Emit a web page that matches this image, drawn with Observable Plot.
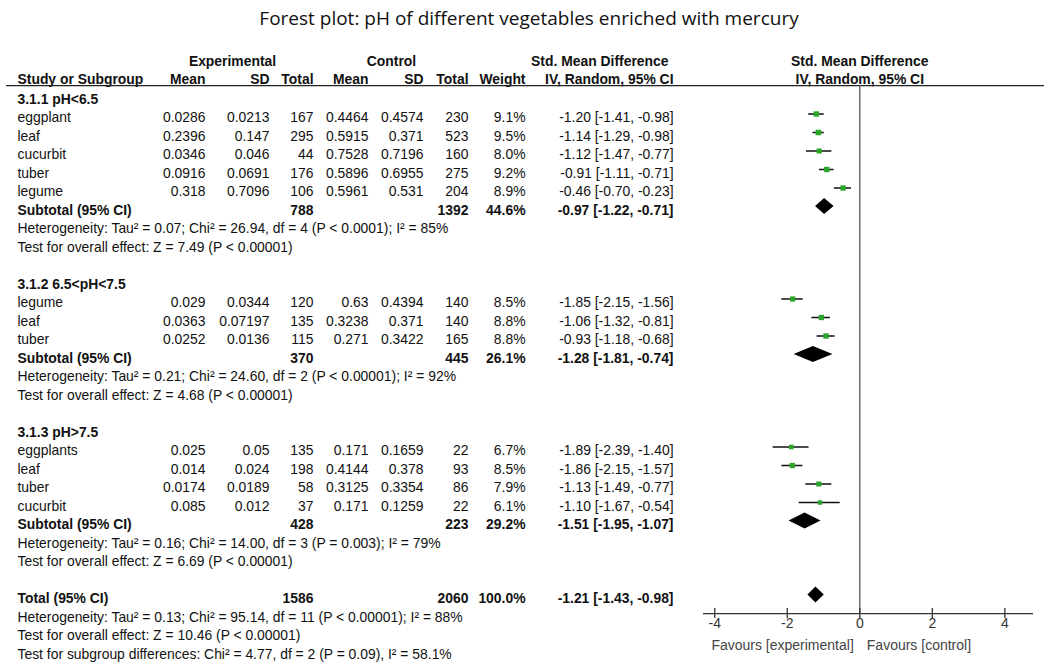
<!DOCTYPE html>
<html>
<head>
<meta charset="utf-8">
<script src="https://cdn.jsdelivr.net/npm/d3@7"></script>
<script src="https://cdn.jsdelivr.net/npm/@observablehq/plot@0.6"></script>
<style>
  html, body { margin: 0; padding: 0; background: #fff; }
  #title { height: 36px; line-height: 36px; text-align: center; padding-left: 14px;
           font-family: "Open Sans", sans-serif; font-size: 19px; color: #111; }
  #chart svg { display: block; }
</style>
</head>
<body>
<div id="title">Forest plot: pH of different vegetables enriched with mercury</div>
<div id="chart"></div>
<script>
// ---------- data ----------
const groupLabels = ["3.1.1 pH<6.5", "3.1.2 6.5<pH<7.5", "3.1.3 pH>7.5"];
const studyGroup = [0, 0, 0, 0, 0, 1, 1, 1, 2, 2, 2, 2];
const studyNames = ["eggplant", "leaf", "cucurbit", "tuber", "legume", "legume", "leaf", "tuber", "eggplants", "leaf", "tuber", "cucurbit"];
const expMean = [0.0286, 0.2396, 0.0346, 0.0916, 0.318, 0.029, 0.0363, 0.0252, 0.025, 0.014, 0.0174, 0.085];
const expSD = [0.0213, 0.147, 0.046, 0.0691, 0.7096, 0.0344, 0.07197, 0.0136, 0.05, 0.024, 0.0189, 0.012];
const expN = [167, 295, 44, 176, 106, 120, 135, 115, 135, 198, 58, 37];
const ctlMean = [0.4464, 0.5915, 0.7528, 0.5896, 0.5961, 0.63, 0.3238, 0.271, 0.171, 0.4144, 0.3125, 0.171];
const ctlSD = [0.4574, 0.371, 0.7196, 0.6955, 0.531, 0.4394, 0.371, 0.3422, 0.1659, 0.378, 0.3354, 0.1259];
const ctlN = [230, 523, 160, 275, 204, 140, 140, 165, 22, 93, 86, 22];
const weight = [9.1, 9.5, 8.0, 9.2, 8.9, 8.5, 8.8, 8.8, 6.7, 8.5, 7.9, 6.1];
const smd = [-1.20, -1.14, -1.12, -0.91, -0.46, -1.85, -1.06, -0.93, -1.89, -1.86, -1.13, -1.10];
const ciLo = [-1.41, -1.29, -1.47, -1.11, -0.70, -2.15, -1.32, -1.18, -2.39, -2.15, -1.49, -1.67];
const ciHi = [-0.98, -0.98, -0.77, -0.71, -0.23, -1.56, -0.81, -0.68, -1.40, -1.57, -0.77, -0.54];

const subExpN = [788, 370, 428];
const subCtlN = [1392, 445, 223];
const subWeight = [44.6, 26.1, 29.2];
const subSmd = [-0.97, -1.28, -1.51];
const subLo = [-1.22, -1.81, -1.95];
const subHi = [-0.71, -0.74, -1.07];
const subHet = [
  "Heterogeneity: Tau² = 0.07; Chi² = 26.94, df = 4 (P < 0.0001); I² = 85%",
  "Heterogeneity: Tau² = 0.21; Chi² = 24.60, df = 2 (P < 0.00001); I² = 92%",
  "Heterogeneity: Tau² = 0.16; Chi² = 14.00, df = 3 (P = 0.003); I² = 79%"
];
const subTest = [
  "Test for overall effect: Z = 7.49 (P < 0.00001)",
  "Test for overall effect: Z = 4.68 (P < 0.00001)",
  "Test for overall effect: Z = 6.69 (P < 0.00001)"
];

const totalExpN = 1586, totalCtlN = 2060, totalWeight = 100.0;
const totalSmd = -1.21, totalLo = -1.43, totalHi = -0.98;
const totalNotes = [
  "Heterogeneity: Tau² = 0.13; Chi² = 95.14, df = 11 (P < 0.00001); I² = 88%",
  "Test for overall effect: Z = 10.46 (P < 0.00001)",
  "Test for subgroup differences: Chi² = 4.77, df = 2 (P = 0.09), I² = 58.1%"
];
const xTicks = [-4, -2, 0, 2, 4];
const favourLabels = ["Favours [experimental]", "Favours [control]"];
const groupHeaders = ["Experimental", "Control", "Std. Mean Difference"];
const columnHeaders = ["Mean", "SD", "Total", "Mean", "SD", "Total", "Weight", "IV, Random, 95% CI"];

// ---------- build rows ----------
const fmtCI = (m, l, h) => `${m.toFixed(2)} [${l.toFixed(2)}, ${h.toFixed(2)}]`;
const rows = [];
const studies = [];
const diamonds = [];
let r = 0;
groupLabels.forEach((g, gi) => {
  rows.push({row: r++, label: g, bold: true});
  studyNames.forEach((name, i) => {
    if (studyGroup[i] !== gi) return;
    rows.push({row: r, label: name, bold: false,
      eM: String(expMean[i]), eS: String(expSD[i]), eN: String(expN[i]),
      cM: String(ctlMean[i]), cS: String(ctlSD[i]), cN: String(ctlN[i]),
      w: weight[i].toFixed(1) + "%", ci: fmtCI(smd[i], ciLo[i], ciHi[i])});
    studies.push({row: r, smd: smd[i], lo: ciLo[i], hi: ciHi[i], w: weight[i]});
    r++;
  });
  rows.push({row: r, label: "Subtotal (95% CI)", bold: true, eN: String(subExpN[gi]), cN: String(subCtlN[gi]),
    w: subWeight[gi].toFixed(1) + "%", ci: fmtCI(subSmd[gi], subLo[gi], subHi[gi])});
  diamonds.push({row: r, smd: subSmd[gi], lo: subLo[gi], hi: subHi[gi], id: gi});
  r++;
  rows.push({row: r++, label: subHet[gi], bold: false});
  rows.push({row: r++, label: subTest[gi], bold: false});
  r++; // blank line
});
rows.push({row: r, label: "Total (95% CI)", bold: true, eN: String(totalExpN), cN: String(totalCtlN),
  w: totalWeight.toFixed(1) + "%", ci: fmtCI(totalSmd, totalLo, totalHi)});
diamonds.push({row: r, smd: totalSmd, lo: totalLo, hi: totalHi, id: 3});
r++;
totalNotes.forEach(t => rows.push({row: r++, label: t, bold: false}));

// diamond polygons as x1/x2 over y
const dh = 0.43;
const diamondPts = diamonds.flatMap(d => [
  {id: d.id, y: d.row - dh, x1: d.smd, x2: d.smd},
  {id: d.id, y: d.row, x1: d.lo, x2: d.hi},
  {id: d.id, y: d.row + dh, x1: d.smd, x2: d.smd}
]);

// layout
const headRow = -1, groupRow = -2;
const ruleRow = -0.7;
const axisRow = 27.84;
const xDomain = [-4.31, 4.79];
const L = 6;
const labelX = 17;
const colKeys = ["eM", "eS", "eN", "cM", "cS", "cN", "w", "ci"];
const colRight = [205, 269, 313, 368, 423, 468, 525, 673];
const groupCenters = [232, 391, null];
const fontSize = 13.9;

const boldRows = rows.filter(d => d.bold);
const normRows = rows.filter(d => !d.bold);

const colMarks = colKeys.flatMap((key, ci) => [boldRows, normRows].map((set, bi) =>
  Plot.text(set.filter(d => d[key] != null), {
    y: "row", text: key, frameAnchor: "left", textAnchor: "end", dx: colRight[ci] - L, dy: 1,
    fontWeight: bi === 0 ? "bold" : "normal"
  })));

const headerMarks = columnHeaders.map((h, i) =>
  Plot.text([h], {y: headRow, text: d => d, frameAnchor: "left", textAnchor: "end", dx: colRight[i] - L, fontWeight: "bold"}));

const chart = Plot.plot({
  width: 1044,
  height: 627,
  marginLeft: L, marginRight: 0, marginTop: 0, marginBottom: 50,
  x: {domain: xDomain, range: [703, 1033]},
  y: {domain: [-2, 30], range: [25, 617], axis: null},
  r: {type: "sqrt", domain: [0, 10], range: [0, 3.2]},
  style: {fontFamily: "'Liberation Sans', Arial, sans-serif", fontSize: fontSize + "px", color: "#111", background: "#fff"},
  marks: [
    // table labels
    Plot.text(boldRows, {y: "row", text: "label", frameAnchor: "left", textAnchor: "start", dx: labelX - L, dy: 1, fontWeight: "bold"}),
    Plot.text(normRows, {y: "row", text: "label", frameAnchor: "left", textAnchor: "start", dx: labelX - L, dy: 1}),
    ...colMarks,
    // headers
    Plot.text([groupHeaders[0]], {y: groupRow, text: d => d, frameAnchor: "left", textAnchor: "middle", dx: groupCenters[0] - L, fontWeight: "bold"}),
    Plot.text([groupHeaders[1]], {y: groupRow, text: d => d, frameAnchor: "left", textAnchor: "middle", dx: groupCenters[1] - L, fontWeight: "bold"}),
    Plot.text([groupHeaders[2]], {y: groupRow, text: d => d, frameAnchor: "left", textAnchor: "end", dx: 668 - L, fontWeight: "bold"}),
    Plot.text(["Study or Subgroup"], {y: headRow, text: d => d, frameAnchor: "left", textAnchor: "start", dx: labelX - L, fontWeight: "bold"}),
    ...headerMarks,
    // forest header
    Plot.text([groupHeaders[2]], {x: 0, y: groupRow, text: d => d, fontWeight: "bold"}),
    Plot.text([columnHeaders[7]], {x: 0, y: headRow, text: d => d, fontWeight: "bold"}),
    // rules
    Plot.ruleY([ruleRow], {stroke: "#222", strokeWidth: 1.3}),
    Plot.ruleX([0], {y1: ruleRow, y2: axisRow, stroke: "#555", strokeWidth: 1.3}),
    Plot.ruleY([axisRow], {x1: xDomain[0], x2: xDomain[1], stroke: "#333", strokeWidth: 1.3}),
    Plot.ruleX(xTicks, {y1: axisRow - 0.27, y2: axisRow + 0.27, stroke: "#333", strokeWidth: 1.3}),
    Plot.axisX({ticks: xTicks, tickSize: 0, tickPadding: 5, fontSize: 14, tickFormat: d => String(d), color: "#333"}),
    Plot.text([favourLabels[0]], {x: 0, y: 29.57, text: d => d, textAnchor: "end", dx: -6, fill: "#444", fontSize: 14}),
    Plot.text([favourLabels[1]], {x: 0, y: 29.57, text: d => d, textAnchor: "start", dx: 7, fill: "#444", fontSize: 14}),
    // forest marks
    Plot.ruleY(studies, {y: "row", x1: "lo", x2: "hi", stroke: "#111", strokeWidth: 1.5, dy: -3}),
    Plot.dot(studies, {x: "smd", y: "row", r: "w", symbol: "square", fill: "#2aa52a", stroke: "none", dy: -3}),
    Plot.areaX(diamondPts, {y: "y", x1: "x1", x2: "x2", z: "id", fill: "#000", curve: "linear", dy: -3})
  ]
});

document.getElementById("chart").append(chart);
</script>
</body>
</html>
